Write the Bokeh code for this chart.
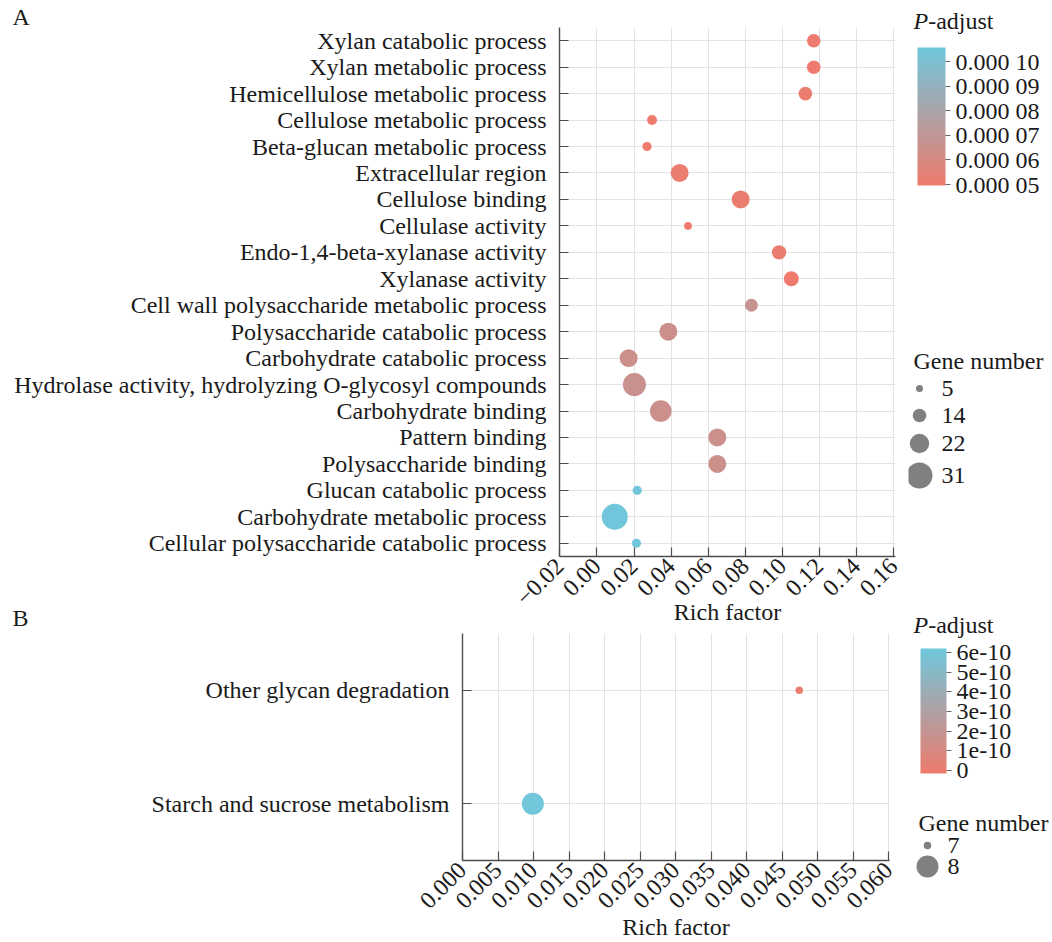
import math
from bokeh.plotting import figure
from bokeh.models import (Range1d, FactorRange, FixedTicker, CustomJSTickFormatter, ColorBar,
                          LinearColorMapper, LinearInterpolator, ColumnDataSource, Title, AllLabels)
from bokeh.layouts import row, column
from bokeh.transform import transform
from bokeh.core.properties import value
from bokeh.embed import file_html
from bokeh.resources import INLINE

FONT = "Liberation Serif"
FS = "24px"
TXT = "#1a1a1a"
AXC = "#4d4d4d"
GRID = "#e3e3e3"

# ---------------- data: panel A ----------------
terms_a = [
    "Xylan catabolic process",
    "Xylan metabolic process",
    "Hemicellulose metabolic process",
    "Cellulose metabolic process",
    "Beta-glucan metabolic process",
    "Extracellular region",
    "Cellulose binding",
    "Cellulase activity",
    "Endo-1,4-beta-xylanase activity",
    "Xylanase activity",
    "Cell wall polysaccharide metabolic process",
    "Polysaccharide catabolic process",
    "Carbohydrate catabolic process",
    "Hydrolase activity, hydrolyzing O-glycosyl compounds",
    "Carbohydrate binding",
    "Pattern binding",
    "Polysaccharide binding",
    "Glucan catabolic process",
    "Carbohydrate metabolic process",
    "Cellular polysaccharide catabolic process",
]
rich_a = [0.1169, 0.1169, 0.1124, 0.0297, 0.0270, 0.0446, 0.0775, 0.0491, 0.0982, 0.1048,
          0.0833, 0.0385, 0.0171, 0.0202, 0.0344, 0.0649, 0.0649, 0.0217, 0.0096, 0.0213]
genes_a = [14, 14, 14, 9, 8, 20, 20, 6, 15, 16, 13, 20, 20, 27, 25, 20, 20, 8, 31, 8]
padj_a = [5.0e-5, 5.0e-5, 5.1e-5, 5.0e-5, 5.0e-5, 5.1e-5, 5.1e-5, 5.0e-5, 5.1e-5, 5.0e-5,
          6.8e-5, 6.5e-5, 6.5e-5, 6.6e-5, 6.5e-5, 6.5e-5, 6.5e-5, 1.05e-4, 1.05e-4, 1.05e-4]
xticks_a = [-0.02, 0.00, 0.02, 0.04, 0.06, 0.08, 0.10, 0.12, 0.14, 0.16]
cticks_a = [5e-5, 6e-5, 7e-5, 8e-5, 9e-5, 1e-4]
size_leg_a = [5, 14, 22, 31]

# ---------------- data: panel B ----------------
terms_b = ["Other glycan degradation", "Starch and sucrose metabolism"]
rich_b = [0.0474, 0.0099]
genes_b = [7, 8]
padj_b = [0.0, 6.1e-10]
xticks_b = [0.000, 0.005, 0.010, 0.015, 0.020, 0.025, 0.030, 0.035, 0.040, 0.045,
            0.050, 0.055, 0.060]
cticks_b = [0.0, 1e-10, 2e-10, 3e-10, 4e-10, 5e-10, 6e-10]
size_leg_b = [7, 8]


def make_palette(c0, c1, n=256):
    out = []
    for i in range(n):
        t = i / (n - 1)
        r = round(c0[0] + (c1[0] - c0[0]) * t)
        g = round(c0[1] + (c1[1] - c0[1]) * t)
        b = round(c0[2] + (c1[2] - c0[2]) * t)
        out.append("#%02x%02x%02x" % (r, g, b))
    return out


PALETTE = make_palette((238, 123, 109), (112, 199, 220))

mapper_a = LinearColorMapper(palette=PALETTE, low=4.96e-5, high=1.058e-4)
mapper_b = LinearColorMapper(palette=PALETTE, low=-1.5e-11, high=6.2e-10)
size_a = LinearInterpolator(x=[5, 31], y=[7, 26])
size_b = LinearInterpolator(x=[7, 8], y=[7.5, 22])


def no_align(p):
    try:
        p.frame_align = False
    except Exception:
        pass


def style_axes(p, xticks, decimals, label_standoff):
    xa = p.xaxis[0]
    ya = p.yaxis[0]
    for ax in (xa, ya):
        ax.axis_line_color = AXC
        ax.axis_line_width = 1.4
        ax.major_tick_line_color = AXC
        ax.major_tick_line_width = 1.2
        ax.major_tick_in = 9
        ax.major_tick_out = 0
        ax.minor_tick_line_color = None
        ax.major_label_text_font = FONT
        ax.major_label_text_font_size = FS
        ax.major_label_text_color = TXT
    ya.major_label_standoff = 13
    xa.major_label_standoff = 6
    xa.major_label_orientation = math.pi / 4
    xa.ticker = FixedTicker(ticks=xticks)
    xa.formatter = CustomJSTickFormatter(
        code="return (tick < -1e-9 ? '\\u2212' : '') + Math.abs(tick).toFixed(%d);" % decimals)
    xa.axis_label = "Rich factor"
    xa.axis_label_text_font = FONT
    xa.axis_label_text_font_size = FS
    xa.axis_label_text_font_style = "normal"
    xa.axis_label_text_color = TXT
    xa.axis_label_standoff = label_standoff
    p.xgrid.grid_line_color = GRID
    p.ygrid.grid_line_color = GRID
    p.xgrid.grid_line_width = 1
    p.ygrid.grid_line_width = 1
    p.outline_line_color = None


def letter(text, offset, standoff, valign):
    return Title(text=text, align="left", offset=offset, standoff=standoff,
                 vertical_align=valign, text_font=FONT, text_font_size=FS,
                 text_font_style="normal", text_color=TXT)


# ---------------- panel A ----------------
figA = figure(frame_width=336, frame_height=529,
              x_range=Range1d(-0.0202, 0.1610),
              y_range=FactorRange(factors=terms_a[::-1]),
              min_border_left=559, min_border_right=13, min_border_top=27, min_border_bottom=77,
              output_backend="svg", toolbar_location=None)
no_align(figA)
style_axes(figA, xticks_a, 2, -16)
srcA = ColumnDataSource(dict(term=terms_a, rich=rich_a, genes=genes_a, padj=padj_a))
figA.scatter(x="rich", y="term", source=srcA, size=transform("genes", size_a),
             fill_color=transform("padj", mapper_a), line_color=None)
figA.add_layout(letter("A", -547, -5, "bottom"), "above")
figA.add_layout(letter("B", -547, -47, "top"), "below")

# ---------------- panel B ----------------
figB = figure(frame_width=427, frame_height=227,
              x_range=Range1d(0.0, 0.0601),
              y_range=FactorRange(factors=terms_b[::-1]),
              min_border_left=462, min_border_right=19, min_border_top=0, min_border_bottom=82,
              output_backend="svg", toolbar_location=None)
no_align(figB)
style_axes(figB, xticks_b, 3, -4)
srcB = ColumnDataSource(dict(term=terms_b, rich=rich_b, genes=genes_b, padj=padj_b))
figB.scatter(x="rich", y="term", source=srcB, size=transform("genes", size_b),
             fill_color=transform("padj", mapper_b), line_color=None)

# ---------------- legends (page coordinates) ----------------
leg = figure(width=144, height=942, x_range=Range1d(908, 1052), y_range=Range1d(942, 0),
             x_axis_type=None, y_axis_type=None, min_border=0,
             output_backend="svg", toolbar_location=None)
leg.xgrid.grid_line_color = None
leg.ygrid.grid_line_color = None
leg.outline_line_color = None


def leg_text(x, y, text, style="normal"):
    leg.text(x=[x], y=[y], text=[text], text_font=value(FONT), text_font_size=FS,
             text_font_style=style, text_color=TXT, text_baseline="middle")


def legend_title_p(x, y):
    leg_text(x, y, "P", "italic")
    leg_text(x + 14.7, y, "-adjust")


legend_title_p(913, 20)
legend_title_p(913, 624)

cb_common = dict(orientation="vertical", padding=0, bar_line_color=None,
                 major_tick_out=5, major_tick_in=0, major_tick_line_color="#666666",
                 minor_tick_line_color=None, label_standoff=5,
                 major_label_policy=AllLabels(),
                 major_label_text_font=FONT, major_label_text_font_size=FS,
                 major_label_text_color=TXT, background_fill_color=None,
                 border_line_color=None)
cbA = ColorBar(color_mapper=mapper_a, location=(9, 757), width=28, height=138,
               ticker=FixedTicker(ticks=cticks_a),
               formatter=CustomJSTickFormatter(
                   code="const n = Math.round(tick*1e5); return '0.000 ' + (n < 10 ? '0' + n : '' + n);"),
               **cb_common)
cbB = ColorBar(color_mapper=mapper_b, location=(12, 169), width=26, height=125,
               ticker=FixedTicker(ticks=cticks_b),
               formatter=CustomJSTickFormatter(
                   code="const n = Math.round(tick*1e10); return n === 0 ? '0' : n + 'e-10';"),
               **cb_common)
leg.add_layout(cbA)
leg.add_layout(cbB)

# gene number legend A
leg_text(913, 360, "Gene number")
legA_src = ColumnDataSource(dict(x=[919, 919, 919, 919], y=[388, 415, 443, 475],
                                 g=size_leg_a, lab=[str(v) for v in size_leg_a],
                                 tx=[941, 941, 941, 941]))
leg.scatter(x="x", y="y", size=transform("g", size_a), fill_color="#808080", line_color=None,
            source=legA_src)
leg.text(x="tx", y="y", text="lab", text_font=value(FONT), text_font_size=FS, text_color=TXT,
         text_baseline="middle", source=legA_src)

# gene number legend B
leg_text(918, 822, "Gene number")
legB_src = ColumnDataSource(dict(x=[927, 927], y=[845, 866], g=size_leg_b,
                                 lab=[str(v) for v in size_leg_b],
                                 tx=[947, 947]))
leg.scatter(x="x", y="y", size=transform("g", size_b), fill_color="#808080", line_color=None,
            source=legB_src)
leg.text(x="tx", y="y", text="lab", text_font=value(FONT), text_font_size=FS, text_color=TXT,
         text_baseline="middle", source=legB_src)

layout = row(column(figA, figB), leg)
open("out.html", "w").write(file_html(layout, INLINE))
